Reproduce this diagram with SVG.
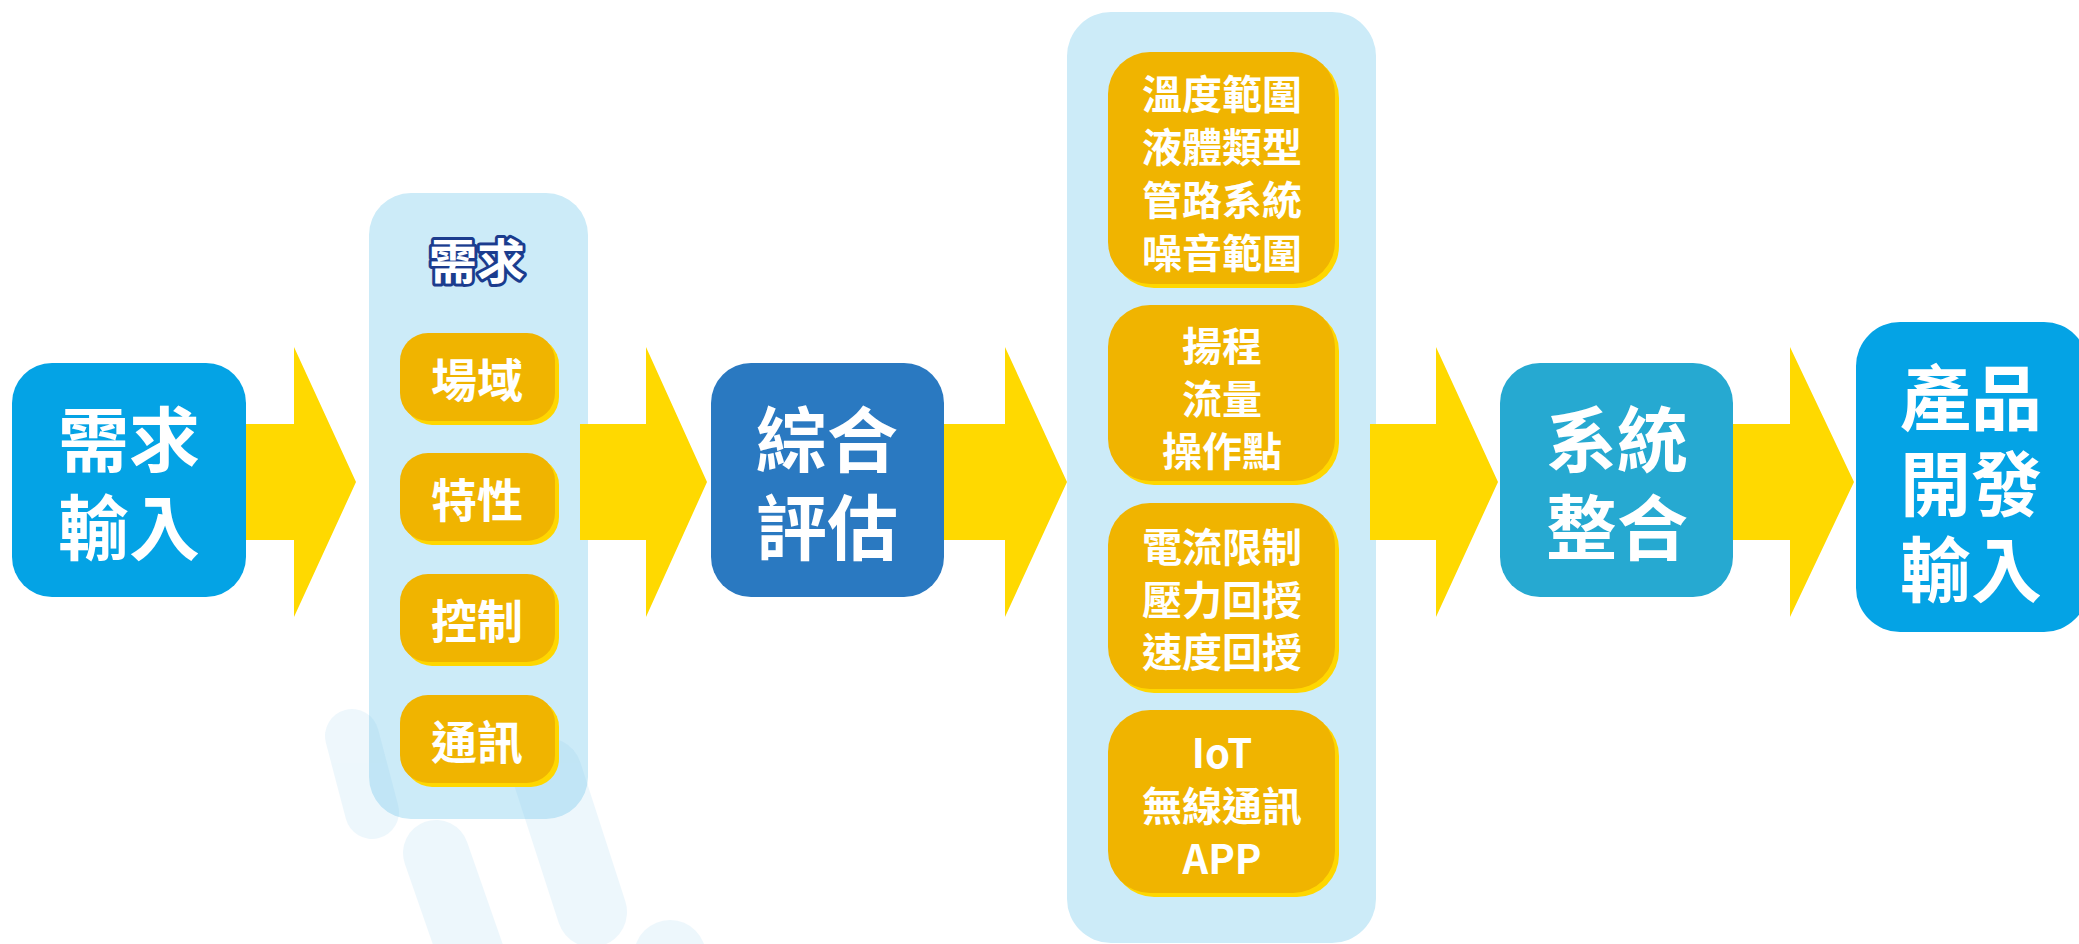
<svg xmlns="http://www.w3.org/2000/svg" width="2079" height="944" viewBox="0 0 2079 944">
<style>
.t{font-family:"Noto Sans CJK TC","Noto Sans CJK SC",sans-serif;font-weight:700;fill:#fff;text-anchor:middle;dominant-baseline:central}
.big{font-size:71px}
.mid{font-size:46px}
.sm{font-size:40px}
.ttl{font-size:48px;stroke:#1B3C8E;stroke-width:6;stroke-linejoin:round;paint-order:stroke fill}
.arrow{fill:#FFD900}
.panel{fill:#CCEBF8}
.sh{fill:#FFD700}
.it{fill:#F0B400}
.band{fill:none;stroke:#74C0EA;stroke-linecap:round}
</style>
<rect width="2079" height="944" fill="#fff"/>
<g id="panel-req"><rect class="panel" x="369" y="193" width="219" height="626" rx="42"/></g>
<g id="panel-spec"><rect class="panel" x="1067" y="12" width="309" height="931" rx="44"/></g>
<g id="decoration" opacity="0.12">
<line class="band" x1="352" y1="736" x2="372" y2="812" stroke-width="54"/>
<line class="band" x1="436" y1="853" x2="482" y2="985" stroke-width="66"/>
<line class="band" x1="547" y1="773" x2="592" y2="912" stroke-width="70"/>
<line class="band" x1="670" y1="956" x2="700" y2="1030" stroke-width="72"/>
</g>
<g id="connectors">
<polygon class="arrow" points="236,424 294,424 294,347 356,482 294,617 294,540 236,540"/>
<polygon class="arrow" points="580,424 646,424 646,347 707,482 646,617 646,540 580,540"/>
<polygon class="arrow" points="933,424 1005,424 1005,347 1067,482 1005,617 1005,540 933,540"/>
<polygon class="arrow" points="1370,424 1436,424 1436,347 1498,482 1436,617 1436,540 1370,540"/>
<polygon class="arrow" points="1723,424 1790,424 1790,347 1854,482 1790,617 1790,540 1723,540"/>
</g>
<g id="n-input">
<rect x="12" y="363" width="234" height="234" rx="40" fill="#04A3E5"/>
<text class="t big" x="129" y="435">需求</text>
<text class="t big" x="129" y="523">輸入</text>
</g>
<g id="n-req-title"><text class="t ttl" x="477" y="258">需求</text></g>
<g id="n-field"><rect class="sh" x="404" y="337" width="155" height="88" rx="28"/><rect class="it" x="400" y="333" width="155" height="88" rx="28"/><text class="t mid" x="477" y="377">場域</text></g>
<g id="n-char"><rect class="sh" x="404" y="457" width="155" height="88" rx="28"/><rect class="it" x="400" y="453" width="155" height="88" rx="28"/><text class="t mid" x="477" y="497">特性</text></g>
<g id="n-ctrl"><rect class="sh" x="404" y="578" width="155" height="88" rx="28"/><rect class="it" x="400" y="574" width="155" height="88" rx="28"/><text class="t mid" x="477" y="618">控制</text></g>
<g id="n-comm"><rect class="sh" x="404" y="699" width="155" height="88" rx="28"/><rect class="it" x="400" y="695" width="155" height="88" rx="28"/><text class="t mid" x="477" y="739">通訊</text></g>
<g id="n-eval">
<rect x="711" y="363" width="233" height="234" rx="40" fill="#2A79C1"/>
<text class="t big" x="827" y="435">綜合</text>
<text class="t big" x="827" y="523">評估</text>
</g>
<g id="n-spec1"><rect class="sh" x="1112" y="56" width="227" height="232" rx="42"/><rect class="it" x="1108" y="52" width="227" height="232" rx="42"/>
<text class="t sm" x="1222" y="92">溫度範圍</text><text class="t sm" x="1222" y="145">液體類型</text><text class="t sm" x="1222" y="198">管路系統</text><text class="t sm" x="1222" y="251">噪音範圍</text></g>
<g id="n-spec2"><rect class="sh" x="1112" y="309" width="227" height="176" rx="42"/><rect class="it" x="1108" y="305" width="227" height="176" rx="42"/>
<text class="t sm" x="1222" y="344">揚程</text><text class="t sm" x="1222" y="397">流量</text><text class="t sm" x="1222" y="449">操作點</text></g>
<g id="n-spec3"><rect class="sh" x="1112" y="507" width="227" height="186" rx="42"/><rect class="it" x="1108" y="503" width="227" height="186" rx="42"/>
<text class="t sm" x="1222" y="545">電流限制</text><text class="t sm" x="1222" y="598">壓力回授</text><text class="t sm" x="1222" y="650">速度回授</text></g>
<g id="n-spec4"><rect class="sh" x="1112" y="714" width="227" height="183" rx="42"/><rect class="it" x="1108" y="710" width="227" height="183" rx="42"/>
<text class="t sm" x="1222" y="751">IoT</text><text class="t sm" x="1222" y="804">無線通訊</text><text class="t sm" x="1222" y="857">APP</text></g>
<g id="n-integ">
<rect x="1500" y="363" width="233" height="234" rx="40" fill="#26A9D1"/>
<text class="t big" x="1617" y="435">系統</text>
<text class="t big" x="1617" y="523">整合</text>
</g>
<g id="n-output">
<rect x="1856" y="322" width="232" height="310" rx="44" fill="#04A3E5"/>
<text class="t big" x="1971" y="393">產品</text>
<text class="t big" x="1971" y="479">開發</text>
<text class="t big" x="1971" y="565">輸入</text>
</g>
</svg>
